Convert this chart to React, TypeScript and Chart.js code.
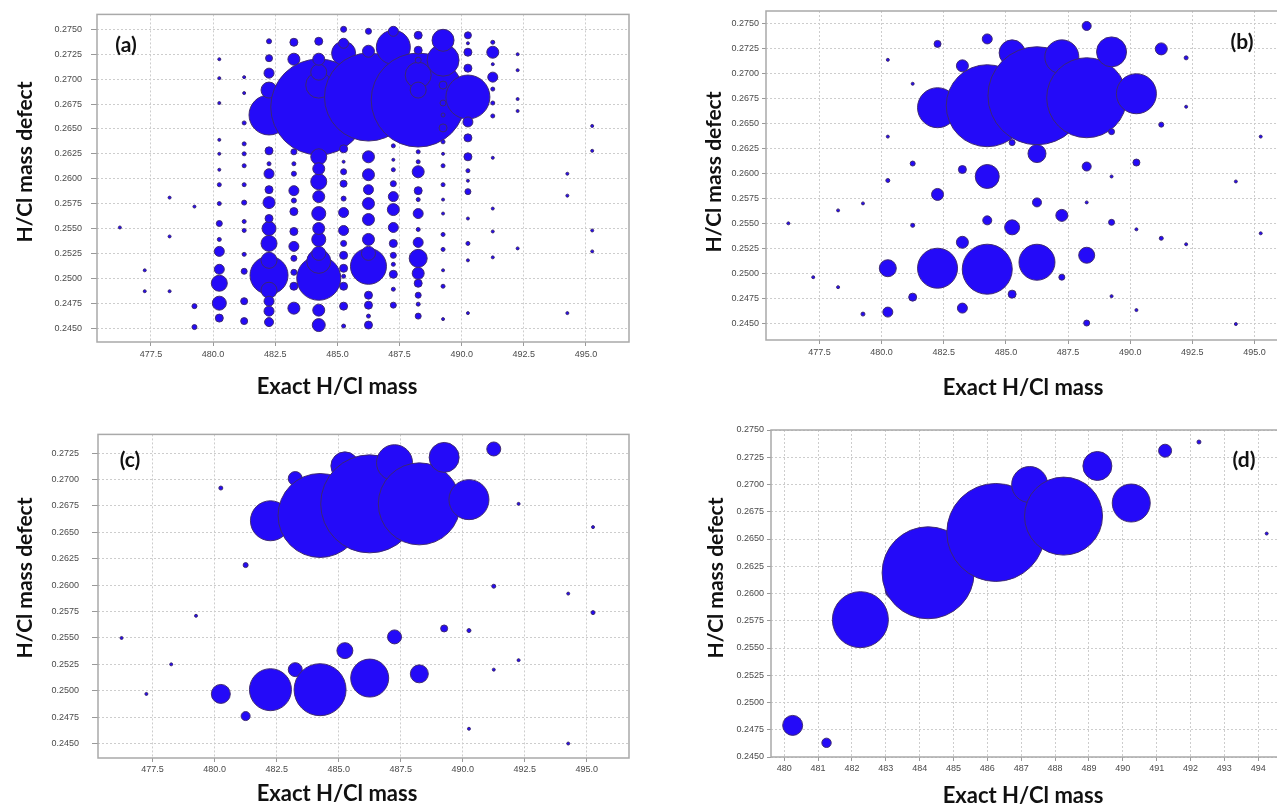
import React, { useEffect, useRef } from "react";
import { Chart, registerables } from "chart.js";

Chart.register(...registerables);

// ---------- tick labels ----------
const massTicksHalf = [477.5, 480, 482.5, 485, 487.5, 490, 492.5, 495];
const massTicksUnit = [480, 481, 482, 483, 484, 485, 486, 487, 488, 489, 490, 491, 492, 493, 494];
const defectTicks = [0.245, 0.2475, 0.25, 0.2525, 0.255, 0.2575, 0.26, 0.2625, 0.265, 0.2675, 0.27, 0.2725, 0.275];
const defectTicksC = [0.245, 0.2475, 0.25, 0.2525, 0.255, 0.2575, 0.26, 0.2625, 0.265, 0.2675, 0.27, 0.2725];

// ---------- data: [exact H/Cl mass, H/Cl mass defect, bubble size] ----------
const panelA = [
  [476.25, 0.2551, 1.5],
  [477.25, 0.2508, 1.5], [477.25, 0.2487, 1.5],
  [478.25, 0.2581, 1.5], [478.25, 0.2542, 1.5], [478.25, 0.2487, 1.5],
  [479.25, 0.2572, 1.5], [479.25, 0.2472, 2.5], [479.25, 0.2451, 2.5],
  [480.25, 0.272, 1.5], [480.25, 0.2701, 1.5], [480.25, 0.2676, 1.5], [480.25, 0.2639, 1.5], [480.25, 0.2625, 1.5],
  [480.25, 0.2609, 1.5], [480.25, 0.2594, 2], [480.25, 0.2575, 2], [480.25, 0.2555, 3], [480.25, 0.2539, 2],
  [480.25, 0.2527, 5], [480.25, 0.2509, 5], [480.25, 0.2495, 8], [480.25, 0.2475, 7], [480.25, 0.246, 4],
  [481.25, 0.2702, 1.5], [481.25, 0.2686, 1.5], [481.25, 0.2656, 2], [481.25, 0.2635, 2], [481.25, 0.2625, 2],
  [481.25, 0.2613, 2], [481.25, 0.2594, 2], [481.25, 0.2576, 2.5], [481.25, 0.2557, 2], [481.25, 0.2548, 2],
  [481.25, 0.2524, 2], [481.25, 0.2507, 3], [481.25, 0.2477, 3.5], [481.25, 0.2457, 3.5],
  [482.25, 0.2738, 2.5], [482.25, 0.2721, 3.5], [482.25, 0.2706, 5], [482.25, 0.2689, 8], [482.25, 0.2664, 20],
  [482.25, 0.2628, 4], [482.25, 0.2615, 2], [482.25, 0.2605, 5], [482.25, 0.2589, 4], [482.25, 0.2576, 6],
  [482.25, 0.256, 4], [482.25, 0.255, 7], [482.25, 0.2535, 8], [482.25, 0.2518, 8], [482.25, 0.2503, 19],
  [482.25, 0.2488, 8], [482.25, 0.2477, 5], [482.25, 0.2467, 5], [482.25, 0.2456, 4.5],
  [483.25, 0.2737, 4], [483.25, 0.272, 6], [483.25, 0.2627, 3], [483.25, 0.2615, 2], [483.25, 0.2605, 2.5],
  [483.25, 0.2588, 5], [483.25, 0.2578, 2.5], [483.25, 0.2567, 4], [483.25, 0.2547, 4], [483.25, 0.2532, 5],
  [483.25, 0.252, 3], [483.25, 0.2506, 3], [483.25, 0.2492, 4], [483.25, 0.247, 6],
  [484.25, 0.2738, 4], [484.25, 0.272, 6], [484.25, 0.2707, 8], [484.25, 0.2694, 13], [484.25, 0.2672, 48],
  [484.25, 0.2622, 8], [484.25, 0.261, 6], [484.25, 0.2597, 8], [484.25, 0.2582, 6], [484.25, 0.2565, 7],
  [484.25, 0.255, 6], [484.25, 0.2539, 7], [484.25, 0.2525, 7], [484.25, 0.2517, 12], [484.25, 0.25, 22],
  [484.25, 0.2468, 6], [484.25, 0.2453, 6.5],
  [485.25, 0.275, 3], [485.25, 0.2736, 5], [485.25, 0.2726, 12], [485.25, 0.263, 4], [485.25, 0.2617, 1.5],
  [485.25, 0.2607, 3], [485.25, 0.2595, 3.5], [485.25, 0.258, 2.5], [485.25, 0.2566, 5], [485.25, 0.2548, 5],
  [485.25, 0.2535, 3], [485.25, 0.2523, 4], [485.25, 0.251, 4], [485.25, 0.2502, 2], [485.25, 0.2492, 4],
  [485.25, 0.2472, 4], [485.25, 0.2452, 2],
  [486.25, 0.2748, 3], [486.25, 0.2728, 6], [486.25, 0.2682, 44], [486.25, 0.2622, 6], [486.25, 0.2604, 6],
  [486.25, 0.2589, 5], [486.25, 0.2575, 6], [486.25, 0.2559, 6], [486.25, 0.2539, 6], [486.25, 0.2525, 7],
  [486.25, 0.2512, 18], [486.25, 0.2483, 4], [486.25, 0.2473, 4], [486.25, 0.2462, 2], [486.25, 0.2453, 4],
  [487.25, 0.2748, 5], [487.25, 0.2732, 17], [487.25, 0.2633, 2], [487.25, 0.2619, 1.5], [487.25, 0.2609, 2],
  [487.25, 0.2595, 3], [487.25, 0.2582, 5], [487.25, 0.2569, 6], [487.25, 0.2551, 5], [487.25, 0.2535, 4],
  [487.25, 0.2523, 3], [487.25, 0.2514, 2], [487.25, 0.2504, 4], [487.25, 0.2489, 2], [487.25, 0.2473, 3],
  [488.25, 0.2744, 4], [488.25, 0.2729, 4], [488.25, 0.2719, 3], [488.25, 0.2704, 13], [488.25, 0.2689, 8],
  [488.25, 0.2679, 47], [488.25, 0.2627, 2], [488.25, 0.2617, 2], [488.25, 0.2607, 6], [488.25, 0.2588, 4],
  [488.25, 0.2579, 2], [488.25, 0.2565, 5], [488.25, 0.2549, 2], [488.25, 0.2536, 5], [488.25, 0.252, 9],
  [488.25, 0.2505, 6], [488.25, 0.2495, 4], [488.25, 0.2483, 3], [488.25, 0.2474, 2], [488.25, 0.2462, 3],
  [489.25, 0.2739, 11], [489.25, 0.2719, 16], [489.25, 0.2694, 4], [489.25, 0.2676, 3], [489.25, 0.2664, 2],
  [489.25, 0.2651, 4], [489.25, 0.2637, 2], [489.25, 0.2625, 1.5], [489.25, 0.2613, 2], [489.25, 0.2594, 2],
  [489.25, 0.2579, 1.5], [489.25, 0.2565, 1.5], [489.25, 0.2544, 2], [489.25, 0.2529, 2], [489.25, 0.2508, 1.5],
  [489.25, 0.2492, 2], [489.25, 0.2459, 1.5],
  [490.25, 0.2744, 3.5], [490.25, 0.2736, 1.5], [490.25, 0.2727, 4], [490.25, 0.2711, 4], [490.25, 0.2682, 22],
  [490.25, 0.2657, 5], [490.25, 0.2641, 4], [490.25, 0.2622, 4], [490.25, 0.2608, 2], [490.25, 0.2598, 1.5],
  [490.25, 0.2587, 3], [490.25, 0.256, 1.5], [490.25, 0.2535, 2], [490.25, 0.2518, 1.5], [490.25, 0.2465, 1.5],
  [491.25, 0.2737, 2], [491.25, 0.2727, 6], [491.25, 0.2715, 1.5], [491.25, 0.2702, 5], [491.25, 0.269, 2],
  [491.25, 0.2676, 2], [491.25, 0.2663, 2], [491.25, 0.2621, 1.5], [491.25, 0.257, 1.5], [491.25, 0.2547, 1.5],
  [491.25, 0.2521, 1.5],
  [492.25, 0.2725, 1.5], [492.25, 0.2709, 1.5], [492.25, 0.268, 1.5], [492.25, 0.2668, 1.5], [492.25, 0.253, 1.5],
  [494.25, 0.2605, 1.5], [494.25, 0.2583, 1.5], [494.25, 0.2465, 1.5],
  [495.25, 0.2653, 1.5], [495.25, 0.2628, 1.5], [495.25, 0.2548, 1.5], [495.25, 0.2527, 1.5],
];

const panelB = [
  [476.25, 0.255, 1.5],
  [477.25, 0.2496, 1.5],
  [478.25, 0.2563, 1.5], [478.25, 0.2486, 1.5],
  [479.25, 0.257, 1.5], [479.25, 0.2459, 2],
  [480.25, 0.2714, 1.5], [480.25, 0.2637, 1.5], [480.25, 0.2593, 2], [480.25, 0.2505, 8.5], [480.25, 0.2461, 5],
  [481.25, 0.269, 1.5], [481.25, 0.261, 2.5], [481.25, 0.2548, 2], [481.25, 0.2476, 4],
  [482.25, 0.273, 3.5], [482.25, 0.2666, 20], [482.25, 0.2579, 6], [482.25, 0.2505, 20],
  [483.25, 0.2708, 6], [483.25, 0.2604, 4], [483.25, 0.2531, 6], [483.25, 0.2465, 5],
  [484.25, 0.2735, 5], [484.25, 0.2668, 41], [484.25, 0.2597, 12], [484.25, 0.2553, 4.5], [484.25, 0.2504, 25],
  [485.25, 0.2721, 13], [485.25, 0.2631, 3], [485.25, 0.2546, 7.5], [485.25, 0.2479, 4],
  [486.25, 0.2678, 49], [486.25, 0.262, 9], [486.25, 0.2571, 4.5], [486.25, 0.2511, 18],
  [487.25, 0.2717, 17], [487.25, 0.2558, 6], [487.25, 0.2496, 3],
  [488.25, 0.2748, 4.5], [488.25, 0.2676, 40], [488.25, 0.2607, 4.5], [488.25, 0.2571, 1.5], [488.25, 0.2518, 8], [488.25, 0.245, 3],
  [489.25, 0.2722, 15], [489.25, 0.2642, 3], [489.25, 0.2597, 1.5], [489.25, 0.2551, 3], [489.25, 0.2477, 1.5],
  [490.25, 0.268, 20], [490.25, 0.2611, 3.5], [490.25, 0.2544, 1.5], [490.25, 0.2463, 1.5],
  [491.25, 0.2725, 6], [491.25, 0.2649, 2.5], [491.25, 0.2535, 2],
  [492.25, 0.2716, 2], [492.25, 0.2667, 1.5], [492.25, 0.2529, 1.5],
  [494.25, 0.2592, 1.5], [494.25, 0.2449, 1.5],
  [495.25, 0.2637, 1.5], [495.25, 0.254, 1.5],
];

const panelC = [
  [476.25, 0.255, 1.5],
  [477.25, 0.2497, 1.5],
  [478.25, 0.2525, 1.5],
  [479.25, 0.2571, 1.5],
  [480.25, 0.2692, 2], [480.25, 0.2497, 9.5],
  [481.25, 0.2619, 2.5], [481.25, 0.2476, 4.5],
  [482.25, 0.2661, 20], [482.25, 0.2501, 21],
  [483.25, 0.2701, 7], [483.25, 0.252, 7],
  [484.25, 0.2666, 42], [484.25, 0.2501, 26],
  [485.25, 0.2713, 14], [485.25, 0.2538, 8],
  [486.25, 0.2677, 49], [486.25, 0.2512, 19],
  [487.25, 0.2716, 18], [487.25, 0.2551, 7],
  [488.25, 0.2677, 41], [488.25, 0.2516, 9],
  [489.25, 0.2721, 15], [489.25, 0.2559, 3.5],
  [490.25, 0.2681, 20], [490.25, 0.2557, 2], [490.25, 0.2464, 1.5],
  [491.25, 0.2729, 7], [491.25, 0.2599, 2], [491.25, 0.252, 1.5],
  [492.25, 0.2677, 1.5], [492.25, 0.2529, 1.5],
  [494.25, 0.2592, 1.5], [494.25, 0.245, 1.5],
  [495.25, 0.2655, 1.5], [495.25, 0.2574, 2],
];

const panelD = [
  [480.25, 0.2479, 10], [481.25, 0.2463, 4.7], [482.25, 0.2576, 28], [483.25, 0.2603, 9],
  [484.25, 0.2619, 46], [486.25, 0.2656, 49], [487.25, 0.27, 18], [488.25, 0.2671, 39],
  [489.25, 0.2717, 14.5], [490.25, 0.2683, 19], [491.25, 0.2731, 6.5], [492.25, 0.2739, 2],
  [494.25, 0.2655, 1.5],
];

// ---------- styles / layout ----------
const BLUE = "rgb(36,10,248)";
const EDGE = "rgba(60,40,110,0.95)";
const GRID = "#cdcdcd";
const FRAME = "#a9a9a9";
const TICK_FONT = { family: "'Liberation Sans', Arial, sans-serif", size: 9 };
const TITLE_FONT = "'Lato', 'Open Sans', sans-serif";

const AXIS_W = 100;
const AXIS_H = 40;
const PAD_T = 14;
const PAD_R = 14;

type Cfg = {
  points: number[][];
  rect: { left: number; top: number; right: number; bottom: number };
  xRange: [number, number];
  yRange: [number, number];
  xTicks: number[];
  xDigits: number;
  yTicks: number[];
  yTickLen: number;
  yTickPad: number;
  xTickPad: number;
};

const framePlugin = {
  id: "frameBox",
  beforeDatasetsDraw(chart: any) {
    const { ctx, chartArea: a } = chart;
    ctx.save();
    ctx.strokeStyle = FRAME;
    ctx.lineWidth = 1.5;
    ctx.strokeRect(a.left, a.top, a.right - a.left, a.bottom - a.top);
    ctx.restore();
  },
};

function Panel({ cfg }: { cfg: Cfg }) {
  const ref = useRef<HTMLCanvasElement>(null);
  const w = AXIS_W + (cfg.rect.right - cfg.rect.left) + PAD_R;
  const h = PAD_T + (cfg.rect.bottom - cfg.rect.top) + AXIS_H;

  useEffect(() => {
    const pts = cfg.points
      .map((p) => ({ x: p[0], y: p[1], r: p[2] }))
      .sort((p, q) => p.x - q.x || q.r - p.r);
    const chart = new Chart(ref.current as HTMLCanvasElement, {
      type: "bubble",
      data: {
        datasets: [
          {
            data: pts,
            backgroundColor: BLUE,
            borderColor: EDGE,
            borderWidth: 1,
            hoverRadius: 0,
          } as any,
        ],
      },
      options: {
        animation: false,
        responsive: false,
        devicePixelRatio: 1,
        events: [],
        layout: { autoPadding: false, padding: { top: PAD_T, right: PAD_R, left: 0, bottom: 0 } },
        plugins: { legend: { display: false }, tooltip: { enabled: false } },
        scales: {
          x: {
            type: "linear",
            position: "bottom",
            min: cfg.xRange[0],
            max: cfg.xRange[1],
            afterFit: (s: any) => {
              s.height = AXIS_H;
            },
            afterBuildTicks: (s: any) => {
              s.ticks = cfg.xTicks.map((v) => ({ value: v }));
            },
            ticks: {
              callback: (v: any) => Number(v).toFixed(cfg.xDigits),
              font: TICK_FONT,
              color: "#4a4a4a",
              padding: cfg.xTickPad,
              autoSkip: false,
              maxRotation: 0,
              includeBounds: false,
            },
            grid: { color: GRID, lineWidth: 1, drawTicks: true, tickLength: 4, tickColor: "#999", tickBorderDash: [] },
            border: { display: false, dash: [2, 2] },
          },
          y: {
            type: "linear",
            position: "left",
            min: cfg.yRange[0],
            max: cfg.yRange[1],
            afterFit: (s: any) => {
              s.width = AXIS_W;
            },
            afterBuildTicks: (s: any) => {
              s.ticks = cfg.yTicks.map((v) => ({ value: v }));
            },
            ticks: {
              callback: (v: any) => Number(v).toFixed(4),
              font: TICK_FONT,
              color: "#4a4a4a",
              padding: cfg.yTickPad,
              autoSkip: false,
              includeBounds: false,
            },
            grid: { color: GRID, lineWidth: 1, drawTicks: true, tickLength: cfg.yTickLen, tickColor: "#999", tickBorderDash: [] },
            border: { display: false, dash: [2, 2] },
          },
        },
      } as any,
      plugins: [framePlugin],
    });
    return () => chart.destroy();
  }, [cfg]);

  return (
    <canvas
      ref={ref}
      width={w}
      height={h}
      style={{
        position: "absolute",
        left: cfg.rect.left - AXIS_W,
        top: cfg.rect.top - PAD_T,
        width: w,
        height: h,
        display: "block",
      }}
    />
  );
}

const cfgA: Cfg = {
  points: panelA,
  rect: { left: 97, top: 14, right: 629, bottom: 342 },
  xRange: [475.33, 496.73],
  yRange: [0.2436, 0.2765],
  xTicks: massTicksHalf,
  xDigits: 1,
  yTicks: defectTicks,
  yTickLen: 6,
  yTickPad: 9,
  xTickPad: 3,
};
const cfgB: Cfg = {
  points: panelB,
  rect: { left: 766, top: 11, right: 1298, bottom: 340 },
  xRange: [475.35, 496.75],
  yRange: [0.2433, 0.2763],
  xTicks: massTicksHalf,
  xDigits: 1,
  yTicks: defectTicks,
  yTickLen: 4,
  yTickPad: 3,
  xTickPad: 3,
};
const cfgC: Cfg = {
  points: panelC,
  rect: { left: 98, top: 430, right: 629, bottom: 758 },
  xRange: [475.3, 496.7],
  yRange: [0.24363, 0.27428],
  xTicks: massTicksHalf,
  xDigits: 1,
  yTicks: defectTicksC,
  yTickLen: 6,
  yTickPad: 13,
  xTickPad: 2,
};
const cfgD: Cfg = {
  points: panelD,
  rect: { left: 771, top: 430, right: 1288, bottom: 757 },
  xRange: [479.61, 494.88],
  yRange: [0.245, 0.275],
  xTicks: massTicksUnit,
  xDigits: 0,
  yTicks: defectTicks,
  yTickLen: 4,
  yTickPad: 3,
  xTickPad: 2,
};

const titleBase: React.CSSProperties = {
  position: "absolute",
  fontFamily: TITLE_FONT,
  fontWeight: 700,
  fontSize: 22,
  color: "#111",
  whiteSpace: "nowrap",
  lineHeight: 1,
};

function XTitle({ cx, cy }: { cx: number; cy: number }) {
  return (
    <div style={{ ...titleBase, left: cx, top: cy, transform: "translate(-50%, -50%)" }}>Exact H/Cl mass</div>
  );
}
function YTitle({ cx, cy }: { cx: number; cy: number }) {
  return (
    <div style={{ ...titleBase, fontSize: 21, left: cx, top: cy, transform: "translate(-50%, -50%) rotate(-90deg)" }}>
      H/Cl mass defect
    </div>
  );
}
function Tag({ cx, cy, text }: { cx: number; cy: number; text: string }) {
  return (
    <div style={{ ...titleBase, fontSize: 21, left: cx, top: cy, transform: "translate(-50%, -50%)" }}>{text}</div>
  );
}

export default function App() {
  return (
    <div
      style={{
        position: "fixed",
        left: 0,
        top: 0,
        width: 1277,
        height: 806,
        overflow: "hidden",
        background: "#fff",
      }}
    >
      <Panel cfg={cfgA} />
      <Panel cfg={cfgB} />
      <Panel cfg={cfgC} />
      <Panel cfg={cfgD} />

      <YTitle cx={23} cy={162} />
      <YTitle cx={712} cy={172} />
      <YTitle cx={23} cy={578} />
      <YTitle cx={714} cy={578} />

      <XTitle cx={337} cy={386} />
      <XTitle cx={1023} cy={387} />
      <XTitle cx={337} cy={793} />
      <XTitle cx={1023} cy={795} />

      <Tag cx={126} cy={43} text="(a)" />
      <Tag cx={1242} cy={40} text="(b)" />
      <Tag cx={130} cy={458} text="(c)" />
      <Tag cx={1244} cy={458} text="(d)" />
    </div>
  );
}
